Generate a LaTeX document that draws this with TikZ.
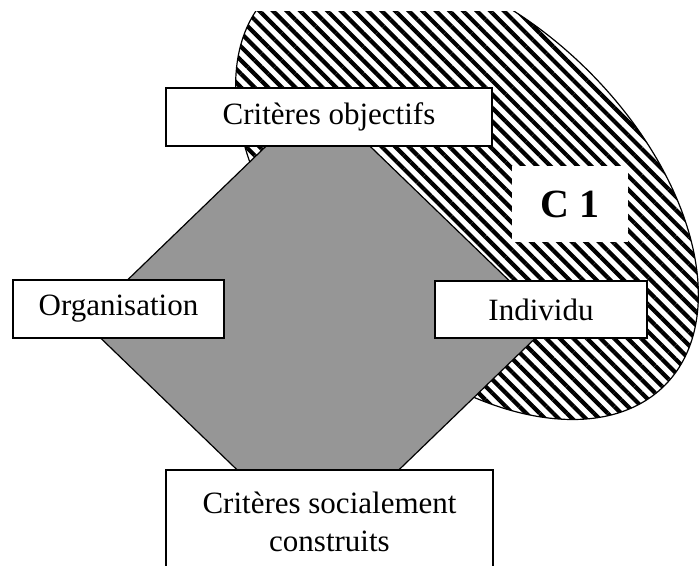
\documentclass[tikz,border=0pt]{standalone}
\usepackage{fontspec}
\setmainfont{Liberation Serif}
\usetikzlibrary{patterns.meta}

\definecolor{grisfond}{RGB}{150,150,150}

\begin{document}
\begin{tikzpicture}[x=0.5pt,y=-0.5pt]

        \path[use as bounding box,clip] (0,0) rectangle (700,566);

        \coordinate (centre) at (467,190);
        \coordinate (haut)   at (318,96);
        \coordinate (droite) at (552,322);
        \coordinate (bas)    at (318,548);
        \coordinate (gauche) at (84,322);

        \begin{scope}
          \clip (0,12) rectangle (700,566);
          \draw[line width=0.6pt, fill=white,
                pattern={Lines[angle=-45,distance=4.8pt,line width=2.1pt]},
                rotate around={-44.5:(centre)}]
            (centre) ellipse [x radius=139pt, y radius=85pt];
        \end{scope}

        \draw[line width=0.6pt, fill=grisfond] (haut) -- (droite) -- (bas) -- (gauche) -- cycle;

        \begin{scope}[every node/.style={draw, fill=white, line width=0.8pt, inner sep=0pt,
                                         font=\fontsize{15.5}{19}\selectfont}]
          \node[minimum width=163pt, minimum height=29pt] (objectifs) at (329,117) {Critères objectifs};
          \node[minimum width=105.5pt, minimum height=29pt] (organisation) at (118.5,309) {Organisation};
          \node[minimum width=106pt, minimum height=28.5pt] (individu) at (541,309.5) {Individu};
          \node[minimum width=163.5pt, minimum height=52pt, align=center] (construits) at (329.5,522) {Critères socialement\\construits};
        \end{scope}

        \node[fill=white, inner sep=0pt, minimum width=58pt, minimum height=38pt,
              font=\bfseries\fontsize{20}{22}\selectfont] (cun) at (570,204) {C 1};

      \end{tikzpicture}
\end{document}
